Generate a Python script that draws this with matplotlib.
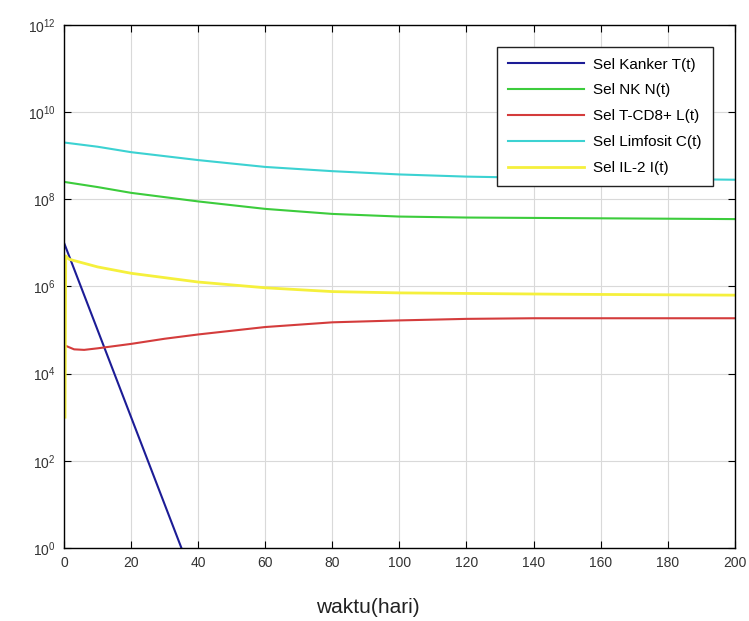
import numpy as np
import matplotlib
matplotlib.use('Agg')
import matplotlib.pyplot as plt

plt.rcParams['font.family'] = ['Liberation Sans', 'DejaVu Sans']

# data (waktu in hari)
t_kanker = [0, 40]
kanker = [1.0e7, 1.0e-1]

t_nk = [0, 10, 20, 40, 60, 80, 100, 120, 200]
nk = [2.5e8, 1.9e8, 1.4e8, 8.9e7, 6.0e7, 4.6e7, 4.0e7, 3.8e7, 3.5e7]

t_cd8 = [0, 3, 6, 10, 20, 30, 40, 60, 80, 100, 120, 140, 200]
cd8 = [4.5e4, 3.6e4, 3.5e4, 3.8e4, 4.8e4, 6.3e4, 7.9e4, 1.17e5, 1.5e5, 1.66e5, 1.8e5, 1.86e5, 1.86e5]

t_limf = [0, 10, 20, 40, 60, 80, 100, 120, 140, 160, 180, 200]
limf = [2.0e9, 1.6e9, 1.2e9, 7.9e8, 5.5e8, 4.4e8, 3.7e8, 3.3e8, 3.1e8, 2.95e8, 2.9e8, 2.8e8]

t_il2 = [0.3, 0.5, 1.5, 10, 20, 40, 60, 80, 100, 150, 200]
il2 = [1.0e3, 5.0e6, 4.2e6, 2.8e6, 2.0e6, 1.26e6, 9.3e5, 7.6e5, 7.1e5, 6.6e5, 6.3e5]

labels = ['Sel Kanker T(t)', 'Sel NK N(t)', 'Sel T-CD8+ L(t)', 'Sel Limfosit C(t)', 'Sel IL-2 I(t)']

fig = plt.figure(figsize=(7.49, 6.21), dpi=100)
ax = fig.add_axes([0.0855, 0.1176, 0.8955, 0.8424])

ax.semilogy(t_kanker, kanker, color='#1c1c96', lw=1.5, label=labels[0])
ax.semilogy(t_nk, nk, color='#3ccc3c', lw=1.5, label=labels[1])
ax.semilogy(t_cd8, cd8, color='#d43c3c', lw=1.5, label=labels[2])
ax.semilogy(t_limf, limf, color='#3cd2d2', lw=1.5, label=labels[3])
ax.semilogy(t_il2, il2, color='#f5f03c', lw=2, label=labels[4])

ax.set_xlim(0, 200)
ax.set_ylim(1, 1e12)
ax.set_xticks(np.arange(0, 201, 20))
ax.set_yticks([10.0**k for k in range(0, 13, 2)])
ax.minorticks_off()
ax.tick_params(direction='in', labelsize=10, labelcolor='#333333', top=True, right=True,
               length=5, pad=6)
ax.grid(True, color='#d9d9d9', lw=0.8)
for s in ax.spines.values():
    s.set_linewidth(1.0)

ax.set_xlabel('waktu(hari)', fontsize=15, color='#222222')
ax.xaxis.set_label_coords(0.453, -0.095)

leg = ax.legend(loc='upper right', bbox_to_anchor=(0.967, 0.958), borderaxespad=0,
                fontsize=11, fancybox=False, edgecolor='#222222', framealpha=1,
                handlelength=5.0, handletextpad=0.6, borderpad=0.7, labelspacing=0.78)
leg.get_frame().set_linewidth(1.0)

fig.savefig('out.png', dpi=100)
